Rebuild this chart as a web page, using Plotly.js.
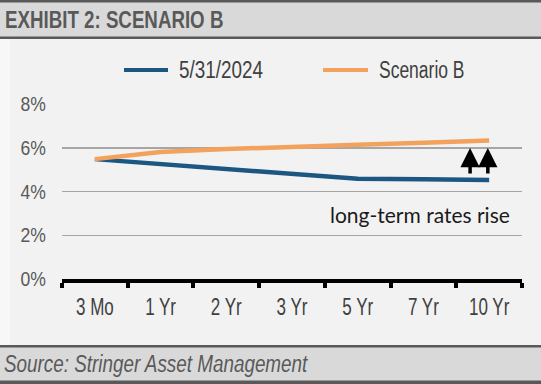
<!DOCTYPE html>
<html>
<head>
<meta charset="utf-8">
<script src="https://cdn.plot.ly/plotly-3.0.1.min.js"></script>
<style>
html,body{margin:0;padding:0;background:#f2f2f2;}
#chart{width:541px;height:384px;}
</style>
</head>
<body>
<div id="chart"></div>
<script>
const categories = ['3 Mo','1 Yr','2 Yr','3 Yr','5 Yr','7 Yr','10 Yr'];
const current = [5.48, 5.25, 4.99, 4.76, 4.58, 4.56, 4.53];
const scenarioB = [5.48, 5.81, 5.94, 6.06, 6.14, 6.23, 6.33];
const seriesNames = ['5/31/2024', 'Scenario B'];
const yTicks = [0, 2, 4, 6, 8];
const titleText = 'EXHIBIT 2: SCENARIO B';
const sourceText = 'Source: Stringer Asset Management';
const noteText = 'long-term rates rise';

const W = 541, H = 384;
const M = {l: 62, r: 19, t: 104, b: 105};
const PW = W - M.l - M.r, PH = H - M.t - M.b;
const px = p => (p - M.l) / PW;
const py = p => (H - M.b - p) / PH;

const NARROW = '"Liberation Sans", Arial, sans-serif';
const blue = '#1b5780', orange = '#f2a25c';
const dark = '#595959';

function rect(x0, y0, x1, y1, color) {
  return {type: 'rect', xref: 'paper', yref: 'paper', layer: 'below',
    x0: px(x0), x1: px(x1), y0: py(y0), y1: py(y1),
    fillcolor: color, line: {width: 0}};
}

const traces = [
  {x: categories, y: current, name: seriesNames[0], type: 'scatter', mode: 'lines',
   line: {color: blue, width: 4.5}, showlegend: false},
  {x: categories, y: scenarioB, name: seriesNames[1], type: 'scatter', mode: 'lines',
   line: {color: orange, width: 4.5}, showlegend: false}
];

const shapes = [
  rect(0, 39, 10, 345, '#f7f7f7'),
  rect(0, 0, W, 39, '#d9d9d9'),
  rect(0, 0, W, 2.5, dark),
  rect(0, 36.5, W, 39, dark),
  rect(0, 345, W, H, '#d9d9d9'),
  rect(0, 345, W, 347.5, dark),
  rect(0, 380.5, W, H, dark),
  {type: 'line', xref: 'paper', yref: 'paper', x0: px(124), x1: px(168), y0: py(70), y1: py(70),
   line: {color: blue, width: 4}},
  {type: 'line', xref: 'paper', yref: 'paper', x0: px(323), x1: px(368), y0: py(70), y1: py(70),
   line: {color: orange, width: 4}}
];

const annotations = [
  {xref: 'paper', yref: 'paper', x: px(177), y: py(70), xanchor: 'left', yanchor: 'middle', align: 'left',
   text: seriesNames[0], showarrow: false, font: {family: NARROW, size: 23, color: '#404040'}},
  {xref: 'paper', yref: 'paper', x: px(377), y: py(70), xanchor: 'left', yanchor: 'middle', align: 'left',
   text: seriesNames[1], showarrow: false, font: {family: NARROW, size: 23, color: '#404040'}},
  {xref: 'paper', yref: 'paper', x: px(2), y: py(364), xanchor: 'left', yanchor: 'middle', align: 'left',
   text: sourceText, showarrow: false, font: {family: NARROW, size: 23, color: dark, style: 'italic'}},
  {xref: 'paper', yref: 'paper', x: px(512), y: py(214), xanchor: 'right', yanchor: 'middle',
   text: noteText, showarrow: false, font: {family: 'Lato, "Open Sans", sans-serif', size: 21, color: '#1a1a1a'}},
  {x: 5.71, y: 5.99, xref: 'x', yref: 'y', axref: 'x', ayref: 'y', ax: 5.71, ay: 4.75,
   text: '', showarrow: true, arrowhead: 2, arrowsize: 1.1, arrowwidth: 3.5, arrowcolor: '#000', standoff: 0},
  {x: 5.98, y: 5.99, xref: 'x', yref: 'y', axref: 'x', ayref: 'y', ax: 5.98, ay: 4.75,
   text: '', showarrow: true, arrowhead: 2, arrowsize: 1.1, arrowwidth: 3.5, arrowcolor: '#000', standoff: 0}
];

const layout = {
  width: W, height: H,
  margin: M,
  paper_bgcolor: '#f2f2f2', plot_bgcolor: 'rgba(0,0,0,0)',
  title: {text: titleText, x: 5 / W, xanchor: 'left', y: 1 - 20 / H, yanchor: 'middle',
          font: {family: NARROW, size: 24, weight: 'bold', color: dark}},
  xaxis: {type: 'category', categoryorder: 'array', categoryarray: categories,
          range: [-0.5, categories.length - 0.5],
          showline: true, linecolor: '#000', linewidth: 4,
          ticks: 'outside', ticklen: 5, tickwidth: 4, tickcolor: '#000', tickson: 'boundaries',
          showgrid: false, zeroline: false, tickangle: 0,
          tickfont: {family: NARROW, size: 23, color: '#404040'}, ticklabelstandoff: 4},
  yaxis: {range: [0, 8], tickvals: yTicks, ticktext: yTicks.map(v => v + '%'),
          showgrid: true, gridcolor: '#a6a6a6', gridwidth: 1.5, zeroline: false, showline: false,
          ticks: '', tickfont: {family: NARROW, size: 20, color: dark}, ticklabelstandoff: 15},
  shapes: shapes,
  annotations: annotations,
  showlegend: false
};

// emulate the condensed face of the original chart by narrowing glyphs of real SVG text
function narrowText(el, factor) {
  const w = el.getComputedTextLength();
  if (w > 0 && factor !== 1) {
    el.setAttribute('textLength', (w * factor).toFixed(1));
    el.setAttribute('lengthAdjust', 'spacingAndGlyphs');
  }
}

Plotly.newPlot('chart', traces, layout, {staticPlot: true, displayModeBar: false}).then(() => {
  document.querySelectorAll('#chart .gtitle').forEach(t => narrowText(t, 0.78));
  document.querySelectorAll('#chart .xtick text').forEach(t => narrowText(t, 0.74));
  document.querySelectorAll('#chart .ytick text').forEach(t => narrowText(t, 0.88));
  const factors = [0.82, 0.76, 0.82, 1];
  document.querySelectorAll('#chart .annotation-text').forEach((t, i) => {
    if (factors[i]) narrowText(t, factors[i]);
  });
});
</script>
</body>
</html>
